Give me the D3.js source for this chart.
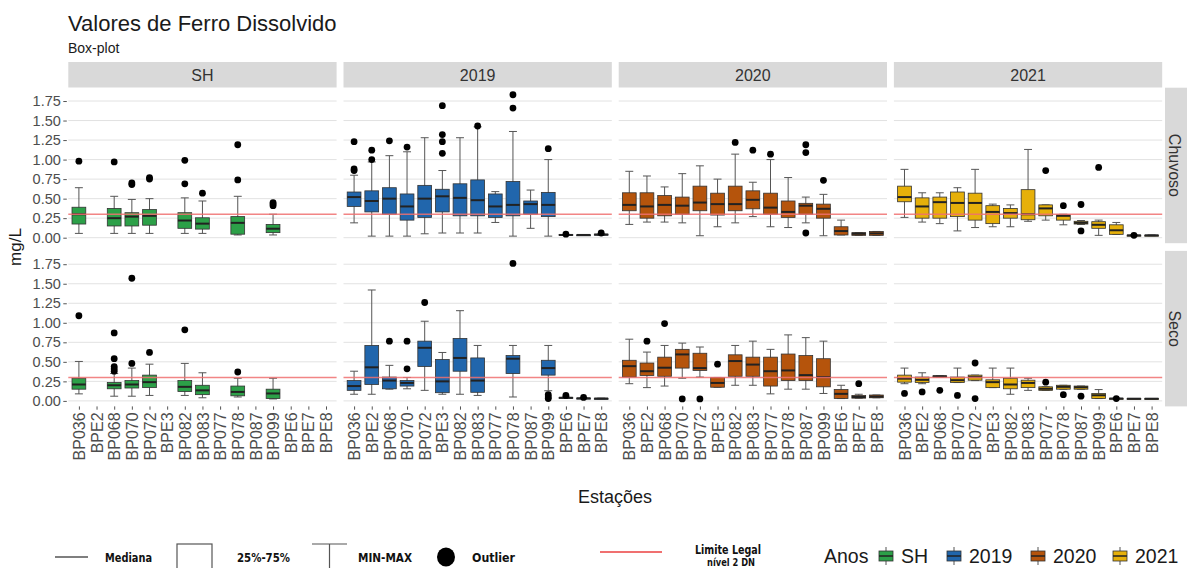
<!DOCTYPE html>
<html>
<head>
<meta charset="utf-8">
<script src="https://cdn.jsdelivr.net/npm/d3@7"></script>
<style>
  body { margin: 0; background: #fff; }
  svg { display: block; font-family: "Liberation Sans", Arial, sans-serif; }
</style>
</head>
<body>
<svg width="1187" height="568"></svg>
<script>
const stations = ["BP036", "BPE2", "BP068", "BP070", "BP072", "BPE3", "BP082", "BP083",
                  "BP077", "BP078", "BP087", "BP099", "BPE6", "BPE7", "BPE8"];
const years = ["SH", "2019", "2020", "2021"];
const seasons = ["Chuvoso", "Seco"];
const yearColors = ["#2ca048", "#2166ac", "#b5540c", "#e6b00a"];
const yTicks = [0, 0.25, 0.5, 0.75, 1, 1.25, 1.5, 1.75];
const limite = 0.3;

// [station, min, q1, median, q3, max, outliers]
const sh_chuvoso = [
  ["BP036", .055, .175, .30, .39, .64, [.98]],
  ["BP068", .055, .15, .25, .375, .53, [.97]],
  ["BP070", .055, .15, .27, .32, .49, [.70, .68]],
  ["BP072", .055, .16, .28, .36, .50, [.77, .75]],
  ["BP082", .055, .12, .22, .32, .51, [.99, .69]],
  ["BP083", .055, .11, .18, .255, .47, [.57]],
  ["BP078", .035, .045, .19, .27, .53, [1.19, .74]],
  ["BP099", .035, .065, .115, .17, .30, [.45, .43, .41]]
];
const sh_seco = [
  ["BP036", .09, .15, .21, .29, .505, [1.09]],
  ["BP068", .06, .155, .20, .235, .35, [.87, .54, .44, .41, .38]],
  ["BP070", .06, .165, .21, .26, .42, [1.57, .48]],
  ["BP072", .07, .17, .24, .33, .47, [.62]],
  ["BP082", .07, .12, .18, .26, .48, [.91]],
  ["BP083", .04, .08, .135, .20, .36, []],
  ["BP078", .05, .065, .115, .19, .29, [.37]],
  ["BP099", .025, .03, .095, .15, .29, []]
];
const y2019_chuvoso = [
  ["BP036", .19, .40, .52, .585, .80, [1.23, .88, .86]],
  ["BPE2", .02, .33, .47, .60, .97, [1.12, 1.0]],
  ["BP068", .02, .30, .50, .64, 1.05, [1.24]],
  ["BP070", .02, .225, .40, .56, 1.10, [1.16]],
  ["BP072", .05, .26, .50, .67, 1.28, []],
  ["BPE3", .06, .33, .53, .62, .86, [1.69, 1.32, 1.23, 1.08]],
  ["BP082", .06, .28, .51, .69, 1.28, []],
  ["BP083", .06, .28, .48, .74, 1.42, [1.43]],
  ["BP077", .195, .26, .40, .56, .59, []],
  ["BP078", .02, .28, .42, .72, 1.36, [1.83, 1.66]],
  ["BP087", .12, .30, .43, .47, .61, []],
  ["BP099", .02, .27, .42, .58, 1.00, [1.14]],
  ["BPE6", .03, .03, .035, .04, .04, [.045]],
  ["BPE7", .03, .032, .035, .037, .04, []],
  ["BPE8", .03, .035, .04, .045, .05, [.06]]
];
const y2019_seco = [
  ["BP036", .085, .135, .19, .26, .38, []],
  ["BPE2", .085, .21, .43, .71, 1.42, []],
  ["BP068", .15, .155, .26, .305, .455, [.765]],
  ["BP070", .155, .19, .23, .26, .30, [.765, .41]],
  ["BP072", .135, .44, .68, .765, 1.02, [1.26]],
  ["BPE3", .085, .105, .25, .53, .62, []],
  ["BP082", .085, .38, .55, .80, 1.155, []],
  ["BP083", .07, .11, .26, .55, .71, []],
  ["BP078", .05, .35, .54, .58, .71, [1.76]],
  ["BP099", .13, .33, .42, .52, .71, [.08, .05, .03]],
  ["BPE6", .035, .038, .04, .045, .05, [.07]],
  ["BPE7", .03, .03, .033, .036, .04, [.045]],
  ["BPE8", .025, .028, .03, .033, .035, []]
];
const y2020_chuvoso = [
  ["BP036", .17, .345, .42, .575, .85, []],
  ["BPE2", .20, .25, .40, .575, .79, []],
  ["BP068", .20, .28, .42, .54, .65, []],
  ["BP070", .19, .30, .41, .52, .82, []],
  ["BP072", .025, .345, .45, .66, .92, []],
  ["BPE3", .14, .29, .43, .57, .75, []],
  ["BP082", .19, .345, .43, .66, 1.07, [1.22]],
  ["BP083", .27, .37, .485, .60, .71, [1.12]],
  ["BP077", .14, .30, .385, .57, 1.00, [1.07]],
  ["BP078", .13, .26, .33, .47, .77, []],
  ["BP087", .19, .30, .41, .44, .52, [1.19, 1.09, .06]],
  ["BP099", .025, .25, .37, .43, .555, [.735]],
  ["BPE6", .035, .035, .085, .14, .225, []],
  ["BPE7", .03, .03, .05, .065, .065, []],
  ["BPE8", .03, .03, .055, .08, .08, []]
];
const y2020_seco = [
  ["BP036", .22, .305, .445, .52, .79, []],
  ["BPE2", .17, .325, .38, .485, .625, [.765]],
  ["BP068", .19, .315, .425, .56, .71, [.99]],
  ["BP070", .29, .42, .595, .66, .74, [.025]],
  ["BP072", .305, .39, .42, .61, .69, [.025]],
  ["BPE3", .175, .175, .23, .30, .30, [.47]],
  ["BP082", .20, .315, .51, .59, .71, []],
  ["BP083", .20, .315, .465, .56, .765, []],
  ["BP077", .09, .19, .38, .56, .66, []],
  ["BP078", .15, .26, .39, .60, .845, []],
  ["BP087", .15, .26, .33, .58, .81, []],
  ["BP099", .095, .18, .305, .54, .765, []],
  ["BPE6", .03, .03, .09, .145, .20, []],
  ["BPE7", .035, .035, .05, .07, .085, [.22]],
  ["BPE8", .04, .04, .055, .075, .075, []]
];
const y2021_chuvoso = [
  ["BP036", .26, .46, .52, .66, .875, []],
  ["BPE2", .20, .25, .40, .51, .575, []],
  ["BP068", .18, .25, .455, .52, .575, []],
  ["BP070", .087, .27, .445, .585, .64, []],
  ["BP072", .13, .225, .445, .57, .875, []],
  ["BPE3", .14, .18, .33, .41, .43, []],
  ["BP082", .14, .25, .315, .375, .42, []],
  ["BP083", .21, .23, .30, .615, 1.13, []],
  ["BP077", .225, .28, .375, .42, .42, [.86]],
  ["BP078", .165, .225, .28, .295, .30, [.41]],
  ["BP087", .17, .175, .19, .21, .22, [.425, .087]],
  ["BP099", .03, .12, .165, .205, .225, [.90]],
  ["BPE6", .043, .043, .095, .165, .195, []],
  ["BPE7", .025, .028, .03, .032, .035, [.03]],
  ["BPE8", .025, .028, .03, .032, .035, []]
];
const y2021_seco = [
  ["BP036", .22, .24, .285, .33, .42, [.095]],
  ["BPE2", .22, .235, .27, .305, .36, [.115]],
  ["BP068", .305, .305, .315, .32, .32, [.135]],
  ["BP070", .235, .235, .265, .305, .42, [.07]],
  ["BP072", .26, .265, .305, .33, .33, [.485, .03]],
  ["BPE3", .17, .17, .24, .27, .42, []],
  ["BP082", .085, .155, .21, .29, .42, []],
  ["BP083", .135, .17, .23, .265, .29, []],
  ["BP077", .135, .135, .155, .18, .18, [.24]],
  ["BP078", .15, .15, .18, .20, .20, [.08]],
  ["BP087", .15, .15, .175, .19, .19, [.06]],
  ["BP099", .03, .03, .072, .095, .145, []],
  ["BPE6", .028, .028, .03, .033, .035, [.03]],
  ["BPE7", .025, .026, .028, .03, .03, []],
  ["BPE8", .025, .026, .028, .03, .03, []]
];

// panels[year][season]
const panels = [
  [sh_chuvoso, sh_seco],
  [y2019_chuvoso, y2019_seco],
  [y2020_chuvoso, y2020_seco],
  [y2021_chuvoso, y2021_seco]
];

const svg = d3.select("svg");
const colX = [68.3, 343.5, 618.7, 893.9];
const panelW = 268.3;
const rowY = [87.7, 250.9];
const panelH = 155.5;

// y domain like ggplot: data range + 5%
const allVals = panels.flat(2).flatMap(d => [d[1], d[5], ...d[6]]);
const [vmin, vmax] = d3.extent(allVals);
const pad = (vmax - vmin) * 0.05;
const y = d3.scaleLinear().domain([vmin - pad, vmax + pad]).range([panelH, 0]);
const x = d3.scalePoint().domain(stations).range([0, panelW]).padding(0.6);
const boxW = x.step() * 0.78;
const capW = x.step() * 0.45;

// title
svg.append("text").attr("x", 68).attr("y", 31)
  .style("font-size", "22px").attr("fill", "#1a1a1a")
  .text("Valores de Ferro Dissolvido");
svg.append("text").attr("x", 68).attr("y", 53)
  .style("font-size", "14px").attr("fill", "#1a1a1a")
  .text("Box-plot");

// top strips
years.forEach((yr, c) => {
  svg.append("rect").attr("x", colX[c]).attr("y", 62).attr("width", panelW).attr("height", 25.5)
    .attr("fill", "#d9d9d9");
  svg.append("text").attr("x", colX[c] + panelW / 2).attr("y", 75).attr("dy", "0.35em")
    .attr("text-anchor", "middle").style("font-size", "16px").attr("fill", "#333")
    .text(yr);
});

// right strips
seasons.forEach((s, r) => {
  svg.append("rect").attr("x", 1165).attr("y", rowY[r]).attr("width", 26).attr("height", panelH)
    .attr("fill", "#d9d9d9");
  svg.append("text")
    .attr("transform", `translate(1175,${rowY[r] + panelH / 2}) rotate(90)`)
    .attr("dy", "0.35em").attr("text-anchor", "middle")
    .style("font-size", "16px").attr("fill", "#333")
    .text(s);
});

// panels
panels.forEach((cols, c) => {
  cols.forEach((data, r) => {
    const g = svg.append("g").attr("transform", `translate(${colX[c]},${rowY[r]})`);

    g.selectAll(".grid").data(yTicks).enter().append("line")
      .attr("x1", 0).attr("x2", panelW)
      .attr("y1", d => y(d)).attr("y2", d => y(d))
      .attr("stroke", "#e2e2e2").attr("stroke-width", 1);

    const b = g.selectAll(".box").data(data).enter().append("g")
      .attr("transform", d => `translate(${x(d[0])},0)`);

    // whiskers
    b.append("line").attr("x1", 0).attr("x2", 0)
      .attr("y1", d => y(d[1])).attr("y2", d => y(d[5]))
      .attr("stroke", "#555").attr("stroke-width", 1);
    b.append("line").attr("x1", -capW / 2).attr("x2", capW / 2)
      .attr("y1", d => y(d[5])).attr("y2", d => y(d[5]))
      .attr("stroke", "#555").attr("stroke-width", 1);
    b.append("line").attr("x1", -capW / 2).attr("x2", capW / 2)
      .attr("y1", d => y(d[1])).attr("y2", d => y(d[1]))
      .attr("stroke", "#555").attr("stroke-width", 1);

    // box
    b.append("rect").attr("x", -boxW / 2).attr("width", boxW)
      .attr("y", d => y(d[4])).attr("height", d => Math.max(1, y(d[2]) - y(d[4])))
      .attr("fill", yearColors[c]).attr("stroke", "#333").attr("stroke-width", 0.8);
    b.append("line").attr("x1", -boxW / 2).attr("x2", boxW / 2)
      .attr("y1", d => y(d[3])).attr("y2", d => y(d[3]))
      .attr("stroke", "#222").attr("stroke-width", 2);

    // outliers
    b.selectAll("circle").data(d => d[6]).enter().append("circle")
      .attr("cx", 0).attr("cy", d => y(d)).attr("r", 3.4).attr("fill", "#000");

    // legal limit
    g.append("line").attr("x1", 0).attr("x2", panelW)
      .attr("y1", y(limite)).attr("y2", y(limite))
      .attr("stroke", "#f07070").attr("stroke-width", 1.5).attr("opacity", 0.85);

    // y axis on first column
    if (c === 0) {
      const ax = g.append("g").attr("transform", "translate(-1.5,0)")
        .call(d3.axisLeft(y).tickValues(yTicks).tickFormat(d3.format(".2f"))
          .tickSize(3.5).tickPadding(2.5));
      ax.select(".domain").remove();
      ax.selectAll("line").attr("stroke", "#555");
      ax.selectAll("text").style("font-size", "14.5px").attr("fill", "#4d4d4d")
        .style("font-family", "'Liberation Sans', Arial, sans-serif");
    }

    // x axis on bottom row
    if (r === 1) {
      const ax = g.append("g").attr("transform", `translate(0,${panelH})`)
        .call(d3.axisBottom(x).tickSize(3.3).tickPadding(2));
      ax.select(".domain").remove();
      ax.selectAll("line").attr("stroke", "#555");
      ax.selectAll("text")
        .attr("transform", "rotate(-90)")
        .attr("x", -6).attr("y", 0).attr("dy", "0.35em")
        .attr("text-anchor", "end")
        .style("font-size", "16px").attr("fill", "#4d4d4d")
        .style("font-family", "'Liberation Sans', Arial, sans-serif");
    }
  });
});

// axis titles
svg.append("text").attr("transform", "translate(21,247) rotate(-90)")
  .attr("text-anchor", "middle").style("font-size", "17px").attr("fill", "#1a1a1a")
  .text("mg/L");
svg.append("text").attr("x", 615).attr("y", 503)
  .attr("text-anchor", "middle").style("font-size", "18px").attr("fill", "#1a1a1a")
  .text("Estações");

// legend, explanatory part
const lg = svg.append("g");
const narrow = "'Liberation Sans Narrow', 'DejaVu Sans Condensed', Arial, sans-serif";
const lgText = (tx, x0, w, yb, fs) => lg.append("text").attr("x", x0).attr("y", yb)
  .attr("textLength", w).attr("lengthAdjust", "spacingAndGlyphs")
  .style("font-family", narrow).style("font-weight", "bold").style("font-size", (fs || 13) + "px")
  .attr("fill", "#111").text(tx);

lg.append("line").attr("x1", 55).attr("x2", 88).attr("y1", 557).attr("y2", 557)
  .attr("stroke", "#555").attr("stroke-width", 1.5);
lgText("Mediana", 105, 47, 562);
lg.append("rect").attr("x", 177).attr("y", 544).attr("width", 35).attr("height", 40)
  .attr("fill", "none").attr("stroke", "#555").attr("stroke-width", 1.2);
lgText("25%-75%", 237, 53, 562);
lg.append("line").attr("x1", 312).attr("x2", 347).attr("y1", 544).attr("y2", 544)
  .attr("stroke", "#555").attr("stroke-width", 1.2);
lg.append("line").attr("x1", 329.5).attr("x2", 329.5).attr("y1", 544).attr("y2", 570)
  .attr("stroke", "#555").attr("stroke-width", 1.2);
lgText("MIN-MAX", 358, 54, 562);
lg.append("ellipse").attr("cx", 446).attr("cy", 557).attr("rx", 9).attr("ry", 9.5).attr("fill", "#000");
lgText("Outlier", 472, 43, 562);
lg.append("line").attr("x1", 600).attr("x2", 662).attr("y1", 552).attr("y2", 552)
  .attr("stroke", "#f07070").attr("stroke-width", 2);
lgText("Limite Legal", 695, 66, 554, 12);
lgText("nível 2 DN", 707, 48, 566, 11);

// legend, years
svg.append("text").attr("x", 824).attr("y", 563).style("font-size", "19.5px")
  .attr("fill", "#1a1a1a").text("Anos");
const keyX = [879, 947, 1031, 1113];
years.forEach((yr, i) => {
  const k = svg.append("g").attr("transform", `translate(${keyX[i]},0)`);
  k.append("line").attr("x1", 7).attr("x2", 7).attr("y1", 547).attr("y2", 565)
    .attr("stroke", "#555").attr("stroke-width", 1);
  k.append("rect").attr("x", 0).attr("y", 551).attr("width", 14).attr("height", 10)
    .attr("fill", yearColors[i]).attr("stroke", "#333").attr("stroke-width", 0.8);
  k.append("line").attr("x1", 0).attr("x2", 14).attr("y1", 556).attr("y2", 556)
    .attr("stroke", "#222").attr("stroke-width", 1.5);
  svg.append("text").attr("x", keyX[i] + 22).attr("y", 563).style("font-size", "19.5px")
    .attr("fill", "#1a1a1a").text(yr);
});
</script>
</body>
</html>
